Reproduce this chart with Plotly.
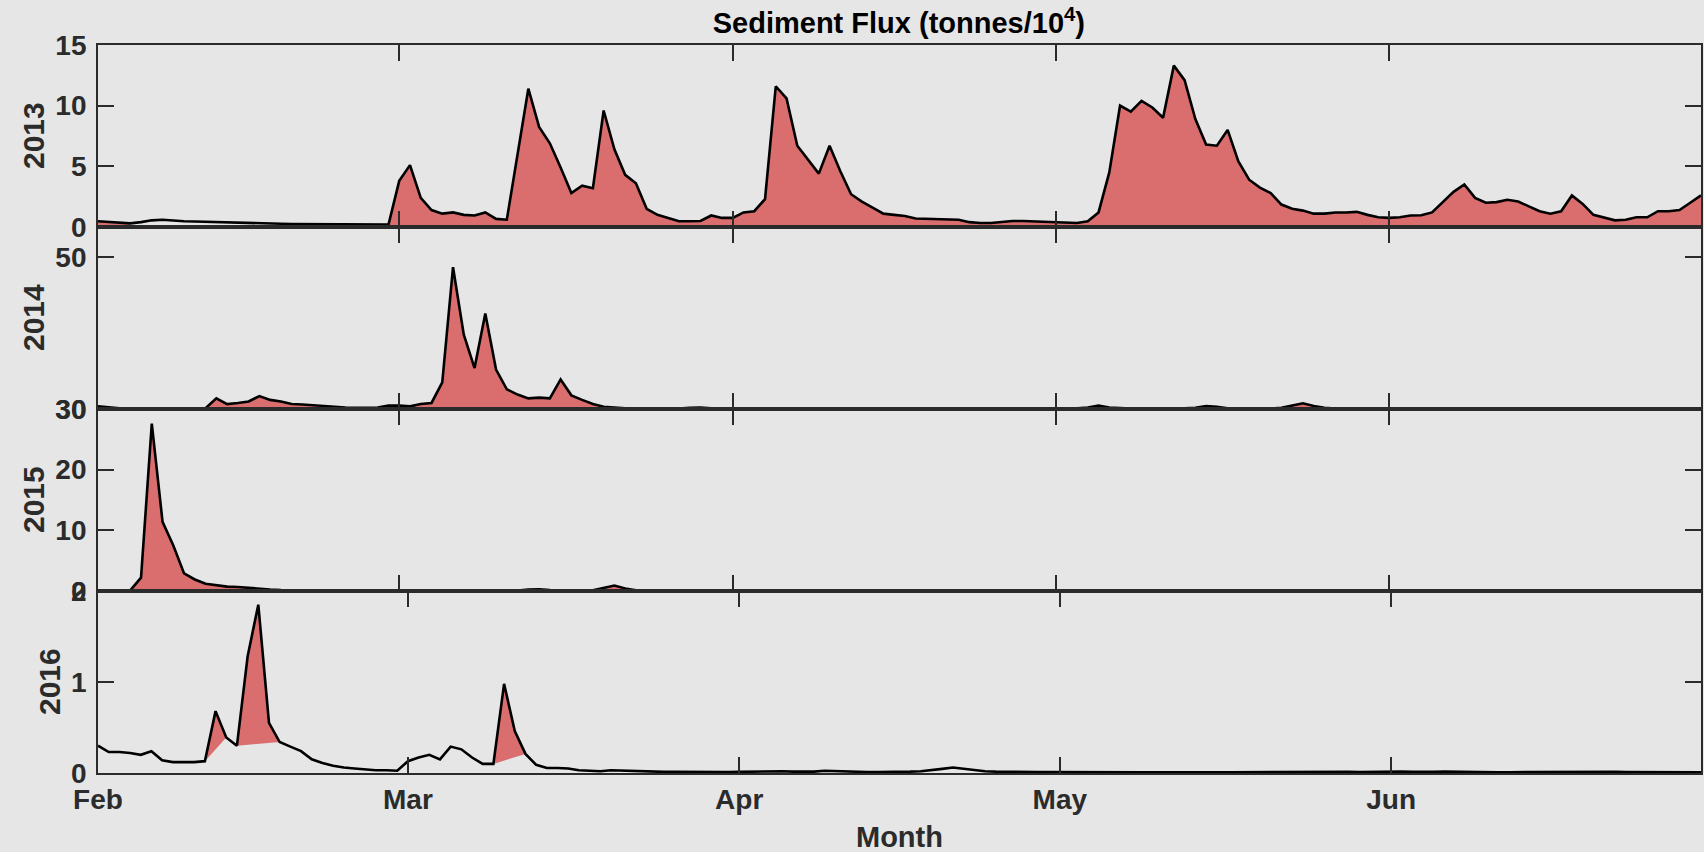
import pandas as pd
import plotly.graph_objects as go
from plotly.subplots import make_subplots

# ---------------- data (daily values from 1 Feb) ----------------
years = [2013, 2014, 2015, 2016]
month_labels = ["Feb", "Mar", "Apr", "May", "Jun"]

flux_2013 = [
    0.47, 0.42, 0.35, 0.3, 0.4, 0.55, 0.6, 0.52, 0.48, 0.45, 0.42, 0.45, 0.4, 0.37, 0.33, 0.3,
    0.28, 0.27, 0.25, 0.25, 0.24, 0.22, 0.25, 0.23, 0.25, 0.22, 0.2,
    0.2, 3.8, 5.1, 2.4, 1.4, 1.1, 1.2, 1.0, 0.95, 1.2, 0.67, 0.6, 6.0, 11.4, 8.25, 6.9, 4.9,
    2.8, 3.4, 3.2, 9.6, 6.4, 4.3, 3.6, 1.5, 1.0, 0.75, 0.47, 0.47, 0.5, 0.95, 0.75, 0.75,
    1.2, 1.3, 2.3, 11.6, 10.6, 6.7, 5.5, 4.4, 6.7, 4.6, 2.7, 2.1, 1.6, 1.1, 1.0, 0.9, 0.7,
    0.67, 0.6, 0.6, 0.6, 0.4, 0.33, 0.33, 0.4, 0.5, 0.5, 0.47, 0.4, 0.4, 0.33, 0.33, 0.47,
    1.2, 4.5, 10.0, 9.5, 10.4, 9.85, 9.0, 13.3, 12.1, 8.9, 6.8, 6.7, 8.0, 5.4, 3.9, 3.25,
    2.8, 1.85, 1.5, 1.35, 1.1, 1.1, 1.2, 1.2, 1.25, 1.0, 0.8, 0.75, 0.8, 0.95, 0.97, 1.2,
    2.05, 2.9, 3.5, 2.4, 2.0, 2.05, 2.25, 2.1, 1.7, 1.3, 1.1, 1.3, 2.6, 1.9, 1.0, 0.75,
    0.55, 0.6, 0.8, 0.8, 1.3, 1.3, 1.4, 2.0, 2.6,
]

flux_2014 = [
    30.35, 30.2, 30.1, 30.05, 30.05, 30.05, 30.05, 30.05, 30.05, 30.05, 30.1, 31.4, 30.65,
    30.8, 31.0, 31.7, 31.2, 31.0, 30.65, 30.6, 30.5, 30.35, 30.25, 30.2, 30.15, 30.2, 30.2,
    30.45, 30.45, 30.35, 30.65, 30.8, 33.5, 48.7, 39.8, 35.4, 42.6, 35.2, 32.6, 31.9, 31.4,
    31.5, 31.4, 33.9, 31.8, 31.2, 30.65, 30.3, 30.15, 30.1, 30.05, 30.05, 30.1, 30.05, 30.05,
    30.15, 30.2, 30.1, 30.05,
    30.03, 30.02, 30.02, 30.03, 30.04, 30.03, 30.02, 30.02, 30.02, 30.03, 30.04, 30.05,
    30.04, 30.03, 30.02, 30.02, 30.02, 30.03, 30.03, 30.02, 30.02, 30.03, 30.04, 30.05,
    30.04, 30.03, 30.02, 30.02, 30.02, 30.03, 30.03, 30.05, 30.1,
    30.2, 30.45, 30.2, 30.1, 30.05, 30.05, 30.05, 30.05, 30.05, 30.1, 30.15, 30.4, 30.3,
    30.1, 30.05, 30.05, 30.05, 30.05, 30.15, 30.5, 30.75, 30.4, 30.15, 30.05,
    30.03, 30.02, 30.02, 30.02, 30.03, 30.02, 30.02, 30.01, 30.01, 30.02, 30.03, 30.02,
    30.01, 30.01, 30.01, 30.0, 30.0, 30.01, 30.01, 30.0, 30.0, 30.0, 30.0, 30.01, 30.0,
    30.0, 30.0, 30.0, 30.0, 30.0, 30.0, 30.0, 30.0, 30.0,
]

flux_2015 = [
    0.0, 0.0, 0.0, 0.1, 2.2, 27.6, 11.4, 7.5, 2.9, 1.9, 1.2, 0.95, 0.72, 0.67, 0.5, 0.4,
    0.25, 0.17, 0.12, 0.1, 0.08,
    0.07, 0.06, 0.06, 0.05, 0.05, 0.05, 0.04, 0.04, 0.04, 0.04, 0.04, 0.03, 0.03, 0.03,
    0.03, 0.03, 0.03, 0.04, 0.08,
    0.25, 0.3, 0.15, 0.08, 0.05, 0.05, 0.12, 0.5, 0.9, 0.4, 0.12, 0.12, 0.06,
    0.04, 0.03, 0.03, 0.03, 0.03, 0.03, 0.04, 0.04, 0.03, 0.03, 0.03, 0.02, 0.02, 0.02,
    0.03, 0.03, 0.03, 0.02, 0.02, 0.02, 0.02, 0.02, 0.03, 0.04, 0.03, 0.02, 0.02, 0.02,
    0.02, 0.02, 0.02, 0.02, 0.02, 0.02, 0.02, 0.02, 0.03, 0.03, 0.02, 0.02, 0.02, 0.02,
    0.02, 0.02, 0.02, 0.02, 0.02, 0.03, 0.03, 0.02, 0.02, 0.02, 0.02, 0.02, 0.02, 0.02,
    0.02, 0.02, 0.02, 0.02, 0.02, 0.02, 0.02, 0.03, 0.02, 0.02, 0.02, 0.02, 0.02, 0.02,
    0.02, 0.02, 0.02, 0.02, 0.02, 0.02, 0.02, 0.02, 0.02, 0.02, 0.02, 0.02, 0.02, 0.02,
    0.02, 0.02, 0.02, 0.02, 0.02, 0.02, 0.02,
]

flux_2016 = [
    0.30, 0.23, 0.23, 0.22, 0.2, 0.24, 0.14, 0.12, 0.12, 0.12, 0.13, 0.68, 0.39, 0.30, 1.28,
    1.85, 0.55, 0.34, 0.29, 0.24, 0.15, 0.11, 0.08, 0.06, 0.05, 0.04, 0.03, 0.03, 0.025,
    0.13, 0.17, 0.2, 0.15, 0.29, 0.26, 0.17, 0.1, 0.1, 0.98, 0.46, 0.21, 0.09, 0.055, 0.055,
    0.05, 0.03, 0.025,
    0.02, 0.03, 0.025, 0.02, 0.015, 0.015, 0.012, 0.012, 0.01, 0.01, 0.01, 0.012, 0.01, 0.012,
    0.015, 0.02, 0.025, 0.02, 0.015, 0.012, 0.015, 0.025, 0.02, 0.015, 0.012, 0.01, 0.01,
    0.01, 0.012, 0.015, 0.02, 0.03, 0.045, 0.06, 0.045, 0.03, 0.02, 0.015, 0.012, 0.01, 0.01,
    0.01, 0.01, 0.009, 0.009, 0.01, 0.012, 0.01, 0.009, 0.009, 0.008, 0.008, 0.009, 0.01,
    0.012, 0.01, 0.009, 0.008, 0.008, 0.008, 0.009, 0.01, 0.01, 0.009, 0.008, 0.008, 0.008,
    0.009, 0.01, 0.012, 0.012, 0.01, 0.012, 0.015,
    0.02, 0.015, 0.012, 0.01, 0.012, 0.015, 0.012, 0.01, 0.009, 0.008, 0.008, 0.009, 0.01,
    0.01, 0.009, 0.008, 0.008, 0.009, 0.01, 0.012, 0.015, 0.012, 0.01, 0.009, 0.008, 0.008,
    0.008, 0.008, 0.008, 0.008,
]

flux = {2013: flux_2013, 2014: flux_2014, 2015: flux_2015, 2016: flux_2016}

# y-axis ranges and ticks for each panel
y_ranges = {2013: [0, 15], 2014: [30, 54], 2015: [0, 30], 2016: [0, 2]}
y_ticks = {2013: [0, 5, 10, 15], 2014: [30, 50], 2015: [0, 10, 20, 30], 2016: [0, 1, 2]}

# shaded spans (day index from 1 Feb): "zero" = fill down to axis, "chord" = fill above straight baseline
fill_spans = {
    2013: [(0, 3, "zero"), (27, 149, "zero")],
    2014: [(0, 149, "zero")],
    2015: [(0, 149, "zero")],
    2016: [(10, 12, "chord"), (13, 17, "chord"), (37, 40, "chord")],
}

# ---------------- styling ----------------
BG = "#e6e6e6"
RED = "rgb(218,110,110)"
AX = "#2b2b2b"
FONT = "Liberation Sans"
TICK_SIZE = 28
LABEL_SIZE = 30
L, R, T, B = 98, 3, 45, 79
W, H = 1704, 852
PW, PH = W - L - R, H - T - B
# horizontal centre (px from figure left) of each year's y-axis label
ylabel_px = {2013: 33, 2014: 33, 2015: 33, 2016: 49}

fig = make_subplots(rows=4, cols=1, vertical_spacing=0, shared_xaxes=False)

for i, yr in enumerate(years, start=1):
    vals = flux[yr]
    dates = pd.date_range(f"{yr}-02-01", periods=len(vals), freq="D")
    for (s, e, mode) in fill_spans[yr]:
        xs = list(dates[s:e + 1])
        ys = vals[s:e + 1]
        if mode == "zero":
            fig.add_trace(go.Scatter(x=xs, y=ys, mode="lines", fill="tozeroy",
                                     fillcolor=RED, line=dict(width=0, color="rgba(0,0,0,0)"),
                                     hoverinfo="skip", showlegend=False), row=i, col=1)
        else:
            fig.add_trace(go.Scatter(x=xs, y=ys, mode="lines", fill="toself",
                                     fillcolor=RED, line=dict(width=1, color="white"),
                                     hoverinfo="skip", showlegend=False), row=i, col=1)
    fig.add_trace(go.Scatter(x=dates, y=vals, mode="lines",
                             line=dict(color="black", width=2.6),
                             showlegend=False), row=i, col=1)

    month_ticks = [f"{yr}-{m:02d}-01" for m in range(2, 7)]
    fig.update_xaxes(
        type="date", range=[f"{yr}-02-01", f"{yr}-06-30"],
        tickvals=month_ticks, ticktext=month_labels,
        showticklabels=(i == 4), ticks="inside", ticklen=16, tickwidth=1.6, tickcolor=AX,
        showline=True, linecolor=AX, linewidth=1.8, mirror="ticks",
        showgrid=False, zeroline=False, ticklabelstandoff=0, automargin=False,
        tickfont=dict(family=FONT, size=TICK_SIZE, color=AX, weight="bold"),
        row=i, col=1,
    )
    fig.update_yaxes(
        range=y_ranges[yr], tickvals=y_ticks[yr],
        ticks="inside", ticklen=16, tickwidth=1.6, tickcolor=AX,
        showline=True, linecolor=AX, linewidth=1.8, mirror="ticks",
        showgrid=False, zeroline=False, ticklabelstandoff=4, automargin=False,
        tickfont=dict(family=FONT, size=TICK_SIZE, color=AX, weight="bold"),
        row=i, col=1,
    )
    # y-axis label for this panel
    fig.add_annotation(
        text=str(yr), textangle=-90, showarrow=False,
        xref="paper", x=(ylabel_px[yr] - L) / PW, xanchor="center",
        yref="paper", y=1 - (i - 0.5) / 4, yanchor="middle",
        font=dict(family=FONT, size=LABEL_SIZE, color=AX, weight="bold"),
    )

# x-axis label
fig.add_annotation(
    text="Month", showarrow=False,
    xref="paper", x=0.5, xanchor="center",
    yref="paper", y=-(837 - (H - B)) / PH, yanchor="middle",
    font=dict(family=FONT, size=29, color=AX, weight="bold"),
)

fig.update_layout(
    width=W, height=H,
    margin=dict(l=L, r=R, t=T, b=B, autoexpand=False),
    paper_bgcolor=BG, plot_bgcolor=BG,
    title=dict(text="Sediment Flux (tonnes/10<sup>4</sup>)", x=0.5275, xanchor="center",
               y=0.973, yanchor="middle",
               font=dict(family=FONT, size=29, color="black", weight="bold")),
    showlegend=False,
)

fig.write_html("out.html", config={"displayModeBar": False},
               post_script="document.body.style.margin='0';document.body.style.overflow='hidden';")
